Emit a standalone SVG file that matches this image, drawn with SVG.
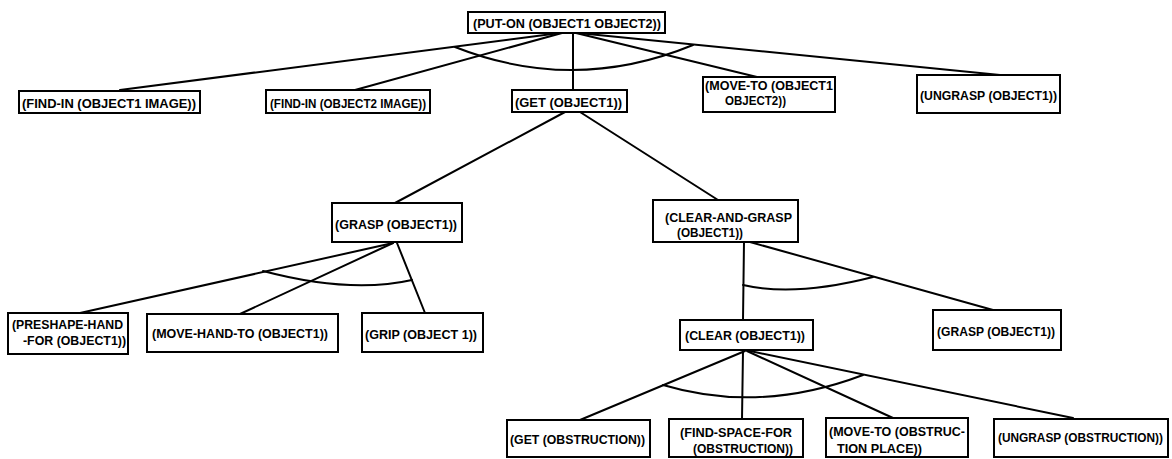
<svg xmlns="http://www.w3.org/2000/svg" width="1172" height="459" viewBox="0 0 1172 459">
<style>
.box{fill:#fff;stroke:#000;stroke-width:2}
.t{font-family:"Liberation Sans",Arial,sans-serif;font-weight:bold;font-size:13.5px;fill:#000}
.c{fill:none;stroke:#000;stroke-width:2;stroke-linecap:round}
</style>
<rect width="1172" height="459" fill="#fff"/>
<g id="connectors">
<line class="c" x1="560" y1="33" x2="120" y2="90"/>
<line class="c" x1="562" y1="33" x2="355" y2="90"/>
<line class="c" x1="573" y1="33" x2="573" y2="90"/>
<line class="c" x1="576" y1="33" x2="757" y2="77"/>
<line class="c" x1="578" y1="33" x2="1000" y2="75"/>
<path class="c" d="M455,47 Q574,94 693,45"/>
<line class="c" x1="565" y1="112" x2="395" y2="203"/>
<line class="c" x1="580" y1="112" x2="718" y2="200"/>
<line class="c" x1="393" y1="243" x2="80" y2="313"/>
<line class="c" x1="393" y1="243" x2="240" y2="314"/>
<line class="c" x1="397" y1="243" x2="425" y2="313"/>
<path class="c" d="M263,271 Q350,294 412,280"/>
<line class="c" x1="744" y1="242" x2="743" y2="320"/>
<line class="c" x1="750" y1="242" x2="993" y2="310"/>
<path class="c" d="M743,285 Q795,297 873,277"/>
<line class="c" x1="745" y1="351" x2="580" y2="420"/>
<line class="c" x1="743" y1="351" x2="742" y2="419"/>
<line class="c" x1="747" y1="351" x2="893" y2="418"/>
<line class="c" x1="750" y1="351" x2="1073" y2="418"/>
<path class="c" d="M663,385 Q760,414 863,375"/>
</g>
<g id="put-on">
<rect class="box" x="468" y="12" width="197" height="21"/>
<text class="t" x="473" y="27.5" textLength="188" lengthAdjust="spacingAndGlyphs">(PUT-ON (OBJECT1 OBJECT2))</text>
</g>
<g id="find-in-1">
<rect class="box" x="19" y="91" width="181" height="22"/>
<text class="t" x="22" y="107.5" textLength="174" lengthAdjust="spacingAndGlyphs">(FIND-IN (OBJECT1 IMAGE))</text>
</g>
<g id="find-in-2">
<rect class="box" x="266" y="90" width="164" height="23"/>
<text class="t" x="270" y="107.5" textLength="156" lengthAdjust="spacingAndGlyphs">(FIND-IN (OBJECT2 IMAGE))</text>
</g>
<g id="get-object1">
<rect class="box" x="512" y="90" width="115" height="22"/>
<text class="t" x="515" y="106.5" textLength="107" lengthAdjust="spacingAndGlyphs">(GET (OBJECT1))</text>
</g>
<g id="move-to-object">
<rect class="box" x="703" y="77" width="132" height="35"/>
<text class="t" x="705" y="90" textLength="128" lengthAdjust="spacingAndGlyphs">(MOVE-TO (OBJECT1</text>
<text class="t" x="725" y="105" textLength="61" lengthAdjust="spacingAndGlyphs">OBJECT2))</text>
</g>
<g id="ungrasp-object1">
<rect class="box" x="917" y="75" width="143" height="38"/>
<text class="t" x="920" y="99.5" textLength="137" lengthAdjust="spacingAndGlyphs">(UNGRASP (OBJECT1))</text>
</g>
<g id="grasp-left">
<rect class="box" x="332" y="203" width="130" height="39"/>
<text class="t" x="335" y="229" textLength="122" lengthAdjust="spacingAndGlyphs">(GRASP (OBJECT1))</text>
</g>
<g id="clear-and-grasp">
<rect class="box" x="653" y="200" width="145" height="42"/>
<text class="t" x="665" y="222" textLength="127" lengthAdjust="spacingAndGlyphs">(CLEAR-AND-GRASP</text>
<text class="t" x="677" y="237" textLength="66" lengthAdjust="spacingAndGlyphs">(OBJECT1))</text>
</g>
<g id="preshape-hand">
<rect class="box" x="8" y="313" width="120" height="41"/>
<text class="t" x="12" y="329" textLength="111" lengthAdjust="spacingAndGlyphs">(PRESHAPE-HAND</text>
<text class="t" x="23" y="345" textLength="103" lengthAdjust="spacingAndGlyphs">-FOR (OBJECT1))</text>
</g>
<g id="move-hand-to">
<rect class="box" x="147" y="314" width="191" height="38"/>
<text class="t" x="152" y="337.5" textLength="176" lengthAdjust="spacingAndGlyphs">(MOVE-HAND-TO (OBJECT1))</text>
</g>
<g id="grip">
<rect class="box" x="362" y="313" width="121" height="39"/>
<text class="t" x="365" y="338.5" textLength="112" lengthAdjust="spacingAndGlyphs">(GRIP (OBJECT 1))</text>
</g>
<g id="clear-object1">
<rect class="box" x="680" y="320" width="133" height="30"/>
<text class="t" x="685" y="340" textLength="120" lengthAdjust="spacingAndGlyphs">(CLEAR (OBJECT1))</text>
</g>
<g id="grasp-right">
<rect class="box" x="933" y="310" width="128" height="40"/>
<text class="t" x="937" y="336" textLength="118" lengthAdjust="spacingAndGlyphs">(GRASP (OBJECT1))</text>
</g>
<g id="get-obstruction">
<rect class="box" x="507" y="420" width="143" height="37"/>
<text class="t" x="510" y="444" textLength="135" lengthAdjust="spacingAndGlyphs">(GET (OBSTRUCTION))</text>
</g>
<g id="find-space-for">
<rect class="box" x="669" y="419" width="134" height="38"/>
<text class="t" x="680" y="437" textLength="112" lengthAdjust="spacingAndGlyphs">(FIND-SPACE-FOR</text>
<text class="t" x="693" y="453" textLength="100" lengthAdjust="spacingAndGlyphs">(OBSTRUCTION))</text>
</g>
<g id="move-to-obstruction">
<rect class="box" x="826" y="418" width="142" height="39"/>
<text class="t" x="829" y="436" textLength="136" lengthAdjust="spacingAndGlyphs">(MOVE-TO (OBSTRUC-</text>
<text class="t" x="837" y="453" textLength="85" lengthAdjust="spacingAndGlyphs">TION PLACE))</text>
</g>
<g id="ungrasp-obstruction">
<rect class="box" x="994" y="419" width="174" height="38"/>
<text class="t" x="998" y="442" style="font-size:12px" textLength="165" lengthAdjust="spacingAndGlyphs">(UNGRASP (OBSTRUCTION))</text>
</g>
</svg>
